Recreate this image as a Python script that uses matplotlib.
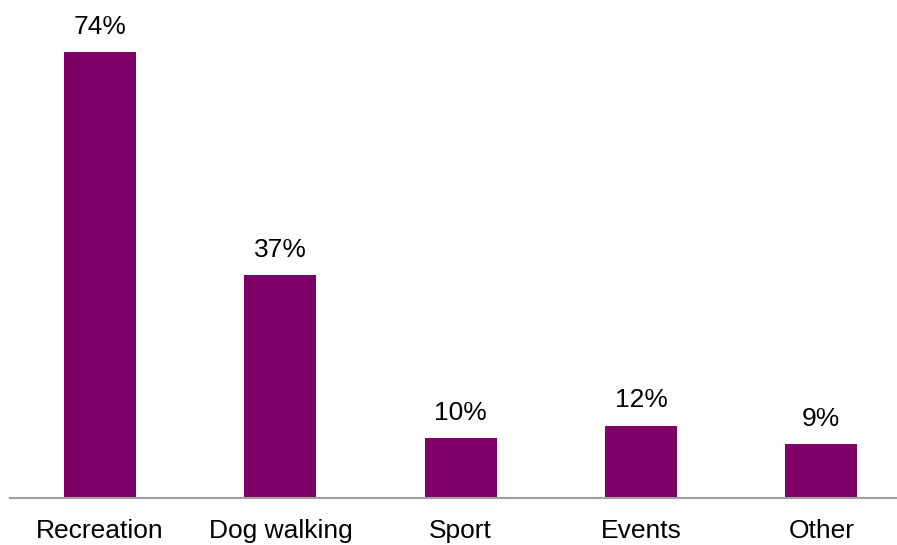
import matplotlib.pyplot as plt

plt.rcParams['font.family'] = ['Liberation Sans', 'DejaVu Sans']

categories = ['Recreation', 'Dog walking', 'Sport', 'Events', 'Other']
values = [74, 37, 10, 12, 9]
labels = ['74%', '37%', '10%', '12%', '9%']

fig = plt.figure(figsize=(8.97, 5.45), dpi=100)
ax = fig.add_axes([10 / 897, 47 / 545, 887 / 897, 498 / 545])

x = range(len(categories))
bars = ax.bar(x, values, width=0.4, color='#7F0066')

for bar, lab in zip(bars, labels):
    ax.annotate(lab, (bar.get_x() + bar.get_width() / 2, bar.get_height()),
                xytext=(0, 9.5), textcoords='offset points',
                ha='center', va='bottom', fontsize=19, color='#000000')

ax.set_xlim(-0.5, 4.42)
ax.set_ylim(0, 82.6)
ax.set_xticks(list(x))
ax.set_xticklabels(categories, fontsize=19)
ax.tick_params(axis='x', length=0, pad=15)
ax.set_yticks([])

for side in ['top', 'right', 'left']:
    ax.spines[side].set_visible(False)
ax.spines['bottom'].set_color('#A0A0A0')
ax.spines['bottom'].set_linewidth(1.5)

fig.savefig('out.png', dpi=100)
